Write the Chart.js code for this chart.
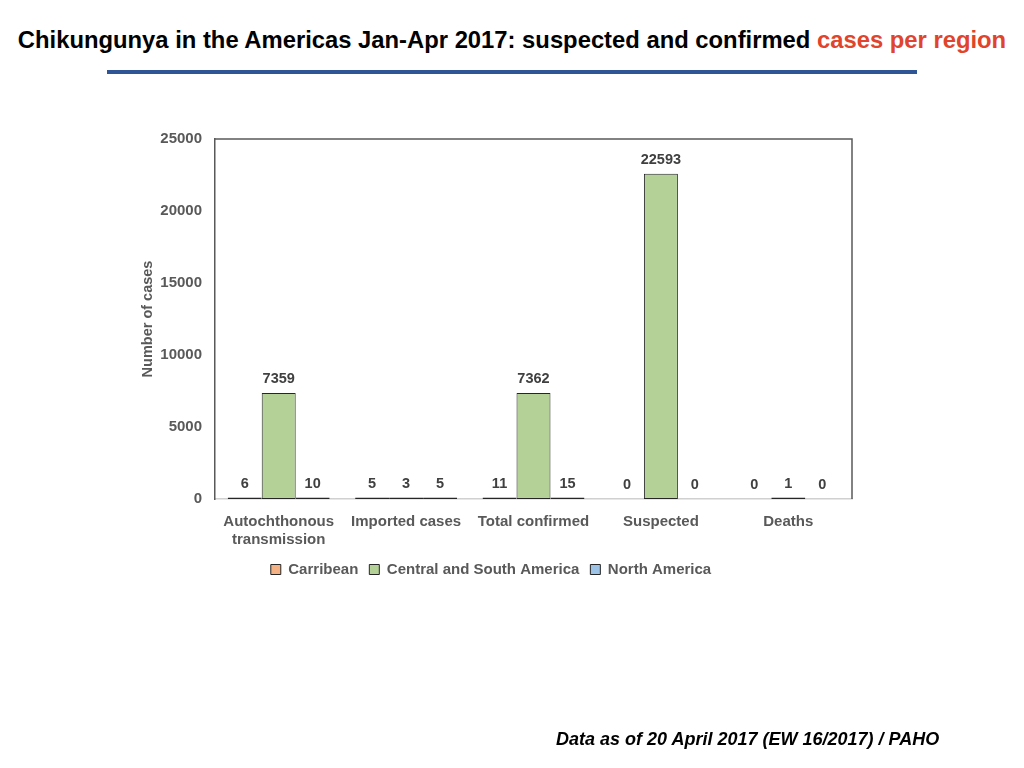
<!DOCTYPE html>
<html>
<head>
<meta charset="utf-8">
<script src="https://cdn.jsdelivr.net/npm/chart.js@4/dist/chart.umd.min.js"></script>
<style>
  html, body { margin: 0; padding: 0; background: #fff; }
  body { width: 1024px; height: 768px; position: relative; overflow: hidden; font-family: "Liberation Sans", Arial, sans-serif; }
  #title { position: absolute; left: 0; width: 1024px; top: 26px; text-align: center; font-weight: bold; font-size: 23.8px; color: #000; white-space: nowrap; }
  #title span { color: #e0442d; }
  #rule { position: absolute; left: 107px; top: 70px; width: 810px; height: 4px; background: #2f5597; }
  #footer { position: absolute; left: 556px; top: 729px; font-weight: bold; font-style: italic; font-size: 18px; color: #000; white-space: nowrap; }
  #wrap { position: absolute; left: 0; top: 0; width: 1024px; height: 768px; }
</style>
</head>
<body>
<div id="title">Chikungunya in the Americas Jan-Apr 2017: suspected and confirmed <span>cases per region</span></div>
<div id="rule"></div>
<div id="wrap"><canvas id="chart"></canvas></div>
<div id="footer">Data as of 20 April 2017 (EW 16/2017) / PAHO</div>
<script>
const categories = [["Autochthonous", "transmission"], "Imported cases", "Total confirmed", "Suspected", "Deaths"];
const carribean = [6, 5, 11, 0, 0];
const centralSouth = [7359, 3, 7362, 22593, 1];
const northAmerica = [10, 5, 15, 0, 0];
const yTicks = [0, 5000, 10000, 15000, 20000, 25000];

const grey = '#595959';
const font = { family: '"Liberation Sans", Arial, sans-serif', weight: 'bold' };

// thin outline for tiny bars, nothing for zeros
const edge = (ctx) => (ctx.raw === 0 ? 'rgba(0,0,0,0)' : '#262626');

const valueLabels = {
  id: 'valueLabels',
  afterDatasetsDraw(chart) {
    const c = chart.ctx;
    c.save();
    c.font = 'bold 14.5px "Liberation Sans", Arial, sans-serif';
    c.fillStyle = '#404040';
    c.textAlign = 'center';
    c.textBaseline = 'alphabetic';
    chart.data.datasets.forEach((ds, i) => {
      chart.getDatasetMeta(i).data.forEach((bar, j) => {
        const top = ds.data[j] === 0 ? chart.scales.y.getPixelForValue(0) : bar.y;
        c.fillText(ds.data[j], bar.x, top - 10);
      });
    });
    c.restore();
  }
};

const frame = {
  id: 'frame',
  afterDraw(chart) {
    const a = chart.chartArea;
    const c = chart.ctx;
    c.save();
    c.strokeStyle = grey;
    c.lineWidth = 1.5;
    c.beginPath();
    c.moveTo(a.left, a.top);
    c.lineTo(a.right, a.top);
    c.lineTo(a.right, a.bottom);
    c.stroke();
    c.restore();
  }
};

new Chart(document.getElementById('chart'), {
  type: 'bar',
  data: {
    labels: categories,
    datasets: [
      { label: 'Carribean', data: carribean, backgroundColor: '#f4b183', borderColor: edge },
      { label: 'Central and South America', data: centralSouth, backgroundColor: '#b4d197', borderColor: edge },
      { label: 'North America', data: northAmerica, backgroundColor: '#9dc3e6', borderColor: edge }
    ]
  },
  options: {
    responsive: true,
    maintainAspectRatio: false,
    animation: false,
    layout: { padding: { left: 130, top: 139, right: 172, bottom: 181 } },
    datasets: {
      bar: { borderWidth: 1, borderSkipped: false, minBarLength: 1.5, categoryPercentage: 0.8, barPercentage: 1.0 }
    },
    scales: {
      x: {
        grid: { display: false },
        border: { display: true, color: '#d0d0d0', width: 1.5 },
        ticks: { color: grey, font: { ...font, size: 15 }, padding: 6, maxRotation: 0 },
        afterFit: (s) => { s.height = 52; }
      },
      y: {
        min: 0,
        max: 25000,
        afterBuildTicks: (s) => { s.ticks = yTicks.map(v => ({ value: v })); },
        grid: { display: false },
        border: { display: true, color: grey, width: 1.5 },
        ticks: { color: grey, font: { ...font, size: 15 }, padding: 5, callback: (v) => String(v) },
        title: { display: true, text: 'Number of cases', color: grey, font: { ...font, size: 14.5 }, padding: { top: 9, bottom: 0 } },
        afterFit: (s) => { s.width = 85; }
      }
    },
    plugins: {
      legend: {
        position: 'bottom',
        labels: { color: grey, font: { ...font, size: 15 }, boxWidth: 10, boxHeight: 10, padding: 11 }
      },
      tooltip: { enabled: false }
    }
  },
  plugins: [valueLabels, frame]
});
</script>
</body>
</html>
